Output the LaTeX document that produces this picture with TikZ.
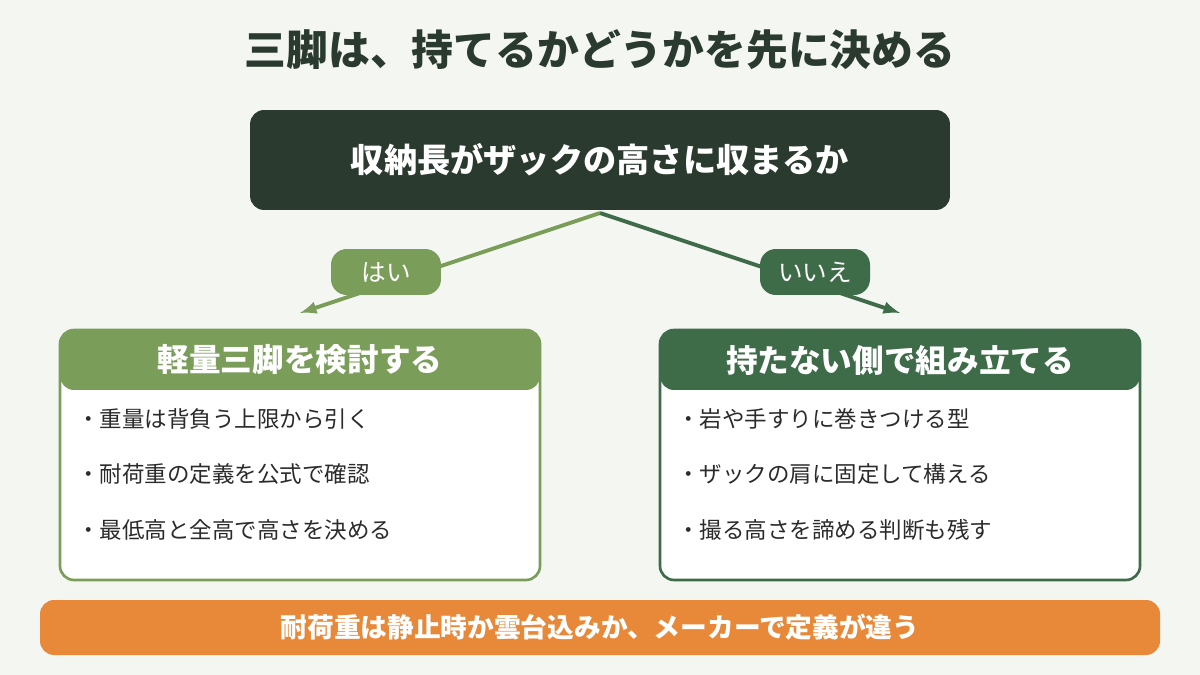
\documentclass[tikz,border=0pt]{standalone}
\usepackage{fontspec}
\setmainfont{Noto Sans CJK JP}
\usepackage{tikz}
\usetikzlibrary{positioning}
\definecolor{bgc}{HTML}{F4F6F2}
\definecolor{darkbox}{HTML}{2A3A2E}
\definecolor{lightg}{HTML}{7A9E5A}
\definecolor{darkg}{HTML}{3E6B48}
\definecolor{orng}{HTML}{E8893A}
\definecolor{txt}{HTML}{2B2B2B}
\tikzset{
  pill/.style={rounded corners=9pt, minimum width=2.2cm, minimum height=0.92cm, text=white, font=\fontsize{14}{14}\selectfont},
  hdr/.style={text=white, font=\bfseries\fontsize{18}{18}\selectfont},
  item/.style={anchor=west, text=txt, font=\fontsize{12.8}{12.8}\selectfont},
}
\begin{document}
\begin{tikzpicture}[x=0.02cm,y=-0.02cm]
  \useasboundingbox[fill=bgc] (0,0) rectangle (1200,675);
  \node[text=darkbox, font=\bfseries\fontsize{23.8}{23.8}\selectfont] (title) at (600,50) {三脚は、持てるかどうかを先に決める};
  % question
  \node[fill=darkbox, rounded corners=8pt, minimum width=14cm, minimum height=2cm, text=white,
        font=\bfseries\fontsize{18.9}{18.9}\selectfont] (q) at (600,160) {収納長がザックの高さに収まるか};
  \coordinate (qs) at (600,213);
  \coordinate (la) at (300,313);
  \coordinate (ra) at (900,313);
  \draw[lightg, line width=2.2pt, -latex] (qs) -- (la);
  \draw[darkg, line width=2.2pt, -latex] (qs) -- (ra);
  \node[pill, fill=lightg] (yes) at (386,272) {はい};
  \node[pill, fill=darkg] (no) at (815,272) {いいえ};
  % left
  \draw[lightg, line width=1.5pt, fill=white, rounded corners=8pt] (60,330) rectangle (540,580);
  \fill[lightg, rounded corners=8pt] (60,390) -- (60,330) -- (540,330) -- (540,390) -- cycle;
  \node[hdr] (lh) at (300,360) {軽量三脚を検討する};
  \node[item] (l1) at (71,419) {・重量は背負う上限から引く};
  \node[item] (l2) at (71,474) {・耐荷重の定義を公式で確認};
  \node[item] (l3) at (71,530) {・最低高と全高で高さを決める};
  % right
  \draw[darkg, line width=1.5pt, fill=white, rounded corners=8pt] (660,330) rectangle (1140,580);
  \fill[darkg, rounded corners=8pt] (660,390) -- (660,330) -- (1140,330) -- (1140,390) -- cycle;
  \node[hdr] (rh) at (900,360) {持たない側で組み立てる};
  \node[item] (r1) at (671,419) {・岩や手すりに巻きつける型};
  \node[item] (r2) at (671,474) {・ザックの肩に固定して構える};
  \node[item] (r3) at (671,530) {・撮る高さを諦める判断も残す};
  % note
  \fill[orng, rounded corners=8pt] (40,600) rectangle (1160,655);
  \node[text=white, font=\bfseries\fontsize{15.2}{15.2}\selectfont] (note) at (600,627) {耐荷重は静止時か雲台込みか、メーカーで定義が違う};
\end{tikzpicture}
\end{document}
